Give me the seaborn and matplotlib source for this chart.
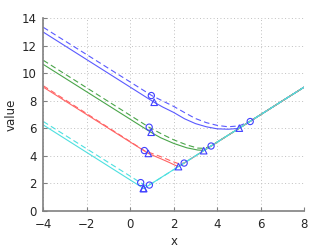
import matplotlib
matplotlib.use("Agg")
import matplotlib.pyplot as plt
import pandas as pd
import seaborn as sns

# curves (solid and dashed pair for each colour)
blue_x = [-4, 1.1, 1.5, 2.0, 2.5, 3.0, 3.5, 4.0, 4.5, 5.0, 8]
blue_y = [13.0, 7.9, 7.55, 7.16, 6.7, 6.35, 6.12, 5.97, 5.94, 6.0, 9.0]
blue_dash_x = [-4, 1.0, 2.0, 2.5, 3.0, 3.5, 4.0, 4.5, 5.0, 5.5, 8]
blue_dash_y = [13.35, 8.38, 7.6, 7.15, 6.72, 6.42, 6.22, 6.12, 6.18, 6.5, 9.0]

green_x = [-4, 0.95, 1.4, 2.0, 2.6, 3.1, 3.4, 8]
green_y = [10.65, 5.72, 5.32, 4.91, 4.59, 4.43, 4.4, 9.0]
green_dash_x = [-4, 0.88, 1.5, 2.0, 2.6, 3.1, 3.4, 3.7, 8]
green_dash_y = [10.95, 6.07, 5.55, 5.17, 4.8, 4.57, 4.55, 4.7, 9.0]

red_x = [-4, 0.83, 1.4, 1.8, 2.05, 2.22, 8]
red_y = [9.0, 4.18, 3.8, 3.52, 3.33, 3.22, 9.0]
red_dash_x = [-4, 0.65, 1.4, 1.9, 2.2, 2.48, 8]
red_dash_y = [9.1, 4.38, 3.95, 3.62, 3.45, 3.48, 9.0]

cyan_x = [-4, 0.62, 8]
cyan_y = [6.25, 1.63, 9.0]
cyan_dash_x = [-4, 0.48, 0.7, 0.88, 8]
cyan_dash_y = [6.5, 2.05, 1.85, 1.88, 9.0]

# marker points
circle_x = [0.97, 5.52, 0.87, 3.72, 0.65, 2.48, 0.48, 0.88]
circle_y = [8.39, 6.5, 6.09, 4.72, 4.39, 3.48, 2.06, 1.88]
tri_x = [1.1, 5.02, 0.96, 3.38, 0.83, 2.22, 0.6, 0.62]
tri_y = [7.9, 6.02, 5.72, 4.38, 4.18, 3.22, 1.63, 1.63]

colors = {"blue": "#5a5aff", "green": "#4aa54a", "red": "#ff6464", "cyan": "#4ee0e0"}

sns.set_style("white")
plt.rcParams["font.family"] = ["DejaVu Sans"]
plt.rcParams["font.size"] = 8.5

fig = plt.figure(figsize=(3.36, 2.52), dpi=100)
ax = fig.add_axes([0.129, 0.163, 0.776, 0.764])

series = [
    ("blue", blue_x, blue_y, blue_dash_x, blue_dash_y),
    ("green", green_x, green_y, green_dash_x, green_dash_y),
    ("red", red_x, red_y, red_dash_x, red_dash_y),
    ("cyan", cyan_x, cyan_y, cyan_dash_x, cyan_dash_y),
]
for name, xs, ys, dxs, dys in series:
    c = colors[name]
    sns.lineplot(x=dxs, y=dys, ax=ax, color=c, lw=0.8, sort=False,
                 estimator=None, linestyle=(0, (5, 3)))
    sns.lineplot(x=xs, y=ys, ax=ax, color=c, lw=0.8, sort=False, estimator=None)

sns.scatterplot(x=circle_x, y=circle_y, ax=ax, marker="o", s=20,
                facecolor="none", edgecolor="#4040ff", linewidth=0.8, zorder=5)
sns.scatterplot(x=tri_x, y=tri_y, ax=ax, marker="^", s=22,
                facecolor="none", edgecolor="#4040ff", linewidth=0.8, zorder=5)

ax.set_xlim(-4, 8)
ax.set_ylim(0, 14)
ax.set_xticks(range(-4, 9, 2))
ax.set_yticks(range(0, 15, 2))
ax.grid(True, linestyle=(0, (1, 2.5)), color="#c0c0c0", linewidth=0.7)
for s in ["top", "right"]:
    ax.spines[s].set_visible(False)
for s in ["left", "bottom"]:
    ax.spines[s].set_color("#808080")
    ax.spines[s].set_linewidth(1.2)
ax.tick_params(direction="in", length=3, color="#808080", labelsize=8.5,
               left=True, bottom=True, pad=5)
ax.set_xlabel("x", fontsize=8.5, labelpad=3)
ax.set_ylabel("value", fontsize=8.5, labelpad=3)

fig.savefig("out.png", dpi=100)
